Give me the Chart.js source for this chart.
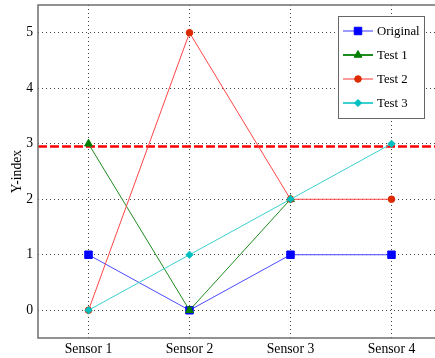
<!DOCTYPE html>
<html>
<head>
<meta charset="utf-8">
<style>
  html, body { margin: 0; padding: 0; background: #fff; overflow: hidden; }
  #wrap { width: 442px; height: 358px; }
</style>
<script src="https://cdn.jsdelivr.net/npm/chart.js@4/dist/chart.umd.min.js"></script>
</head>
<body>
<div id="wrap"><canvas id="chart" width="442" height="358"></canvas></div>
<script>
  var SENSORS = ['Sensor 1', 'Sensor 2', 'Sensor 3', 'Sensor 4'];
  var ORIGINAL = [1, 0, 1, 1];
  var TEST_1 = [3, 0, 2];
  var TEST_2 = [0, 5, 2, 2];
  var TEST_3 = [0, 1, 2, 3];
  var Y_TICKS = [0, 1, 2, 3, 4, 5];
  var Y_MIN = -0.5;
  var Y_MAX = 5.5;
  var THRESHOLD = 2.95;

  var SERIF = '"Liberation Serif", "DejaVu Serif", serif';

  /* dashed red reference line, drawn under the series */
  var thresholdLine = {
    id: 'thresholdLine',
    beforeDatasetsDraw: function (chart) {
      var ctx = chart.ctx, area = chart.chartArea;
      var y = chart.scales.y.getPixelForValue(THRESHOLD);
      ctx.save();
      ctx.strokeStyle = '#ff0000';
      ctx.lineWidth = 2.5;
      ctx.setLineDash([9, 3]);
      ctx.beginPath();
      ctx.moveTo(area.left, y);
      ctx.lineTo(area.right, y);
      ctx.stroke();
      ctx.restore();
    }
  };

  /* axes frame, y title and boxed legend in the MATLAB look */
  var frameAndLegend = {
    id: 'frameAndLegend',
    afterDraw: function (chart) {
      var ctx = chart.ctx, area = chart.chartArea;
      ctx.save();
      ctx.strokeStyle = '#6e6e6e';
      ctx.lineWidth = 1.5;
      ctx.strokeRect(area.left, area.top, area.right - area.left, area.bottom - area.top);

      ctx.fillStyle = '#000';
      ctx.font = '13.7px ' + SERIF;
      ctx.textAlign = 'center';
      ctx.textBaseline = 'middle';
      ctx.translate(17, (area.top + area.bottom) / 2);
      ctx.rotate(-Math.PI / 2);
      ctx.fillText('Y-index', 0, 0);
      ctx.restore();

      var box = { x: 338, y: 16, w: 86, h: 102 };
      ctx.save();
      ctx.fillStyle = '#fff';
      ctx.fillRect(box.x, box.y, box.w, box.h);
      ctx.strokeStyle = '#666';
      ctx.lineWidth = 1;
      ctx.strokeRect(box.x + 0.5, box.y + 0.5, box.w, box.h);
      ctx.font = '12.8px ' + SERIF;
      ctx.textAlign = 'left';
      ctx.textBaseline = 'middle';
      chart.data.datasets.forEach(function (ds, i) {
        var y = box.y + 15 + i * 24;
        ctx.strokeStyle = ds.legendLine;
        ctx.lineWidth = 2;
        ctx.beginPath();
        ctx.moveTo(343, y);
        ctx.lineTo(373, y);
        ctx.stroke();
        ctx.fillStyle = ds.pointBackgroundColor;
        ctx.strokeStyle = ds.pointBorderColor;
        ctx.lineWidth = 1;
        Chart.helpers.drawPoint(ctx, { pointStyle: ds.pointStyle, radius: ds.pointRadius, rotation: 0, borderWidth: 1 }, 358, y);
        ctx.fillStyle = '#000';
        ctx.fillText(ds.label, 377, y + 1);
      });
      ctx.restore();
    }
  };

  function series(label, data, color, marker, markerColor, radius, legendLine, order) {
    return {
      label: label,
      data: data,
      borderColor: color,
      borderWidth: 1,
      pointStyle: marker,
      pointRadius: radius,
      pointHoverRadius: radius,
      pointBackgroundColor: markerColor,
      pointBorderColor: markerColor,
      pointBorderWidth: 1,
      legendLine: legendLine,
      tension: 0,
      fill: false,
      clip: false,
      order: order
    };
  }

  function noPad(scale) {
    scale.paddingTop = 0;
    scale.paddingBottom = 0;
    scale.paddingLeft = 0;
    scale.paddingRight = 0;
  }

  new Chart(document.getElementById('chart'), {
    type: 'line',
    data: {
      labels: SENSORS,
      datasets: [
        series('Original', ORIGINAL, '#4a4aff', 'rect', '#0000ff', 5.3, '#9a9aff', 4),
        series('Test 1', TEST_1, '#1e8c1e', 'triangle', '#007f00', 4.5, '#1e8c1e', 3),
        series('Test 2', TEST_2, '#ff4545', 'circle', '#dd2a00', 3.3, '#ff9a9a', 2),
        series('Test 3', TEST_3, '#3ccfcf', 'rectRot', '#00bfbf', 3.6, '#3ccfcf', 1)
      ]
    },
    options: {
      responsive: false,
      animation: false,
      devicePixelRatio: 1,
      // plot box runs a few px past the right edge of the window, as in the source
      layout: { autoPadding: false, padding: { top: 5, left: 0, right: 0, bottom: 0 } },
      plugins: { legend: { display: false }, tooltip: { enabled: false } },
      scales: {
        x: {
          type: 'category',
          offset: true,
          grid: { offset: false, color: 'rgba(0,0,0,0.75)', lineWidth: 1, tickLength: 0, drawTicks: false },
          border: { display: false, dash: [1, 3] },
          ticks: { color: '#000', font: { family: SERIF, size: 13.7 }, padding: 3, maxRotation: 0 },
          afterFit: function (scale) { scale.height = 20; noPad(scale); }
        },
        y: {
          min: Y_MIN,
          max: Y_MAX,
          grid: { color: 'rgba(0,0,0,0.75)', lineWidth: 1, tickLength: 0, drawTicks: false },
          border: { display: false, dash: [1, 3] },
          ticks: { color: '#000', font: { family: SERIF, size: 13.7 }, padding: 5 },
          afterBuildTicks: function (scale) {
            scale.ticks = Y_TICKS.map(function (v) { return { value: v }; });
          },
          afterFit: function (scale) { scale.width = 38; noPad(scale); }
        }
      }
    },
    plugins: [thresholdLine, frameAndLegend]
  });
</script>
</body>
</html>
